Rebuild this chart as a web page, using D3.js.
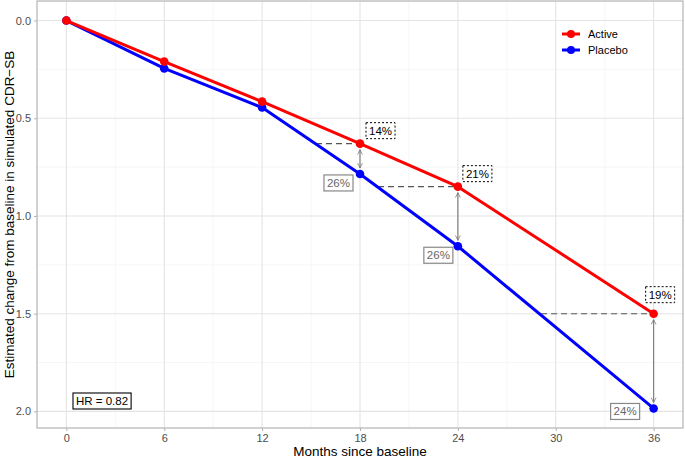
<!DOCTYPE html>
<html>
<head>
<meta charset="utf-8">
<script src="https://cdn.jsdelivr.net/npm/d3@7"></script>
<style>
  body { margin: 0; background: #fff; }
  text { font-family: "Liberation Sans", Arial, sans-serif; }
</style>
</head>
<body>
<script>
"use strict";

var months = [0, 6, 12, 18, 24, 36];
var active = [0, 0.21, 0.415, 0.63, 0.85, 1.50];
var placebo = [0, 0.245, 0.445, 0.785, 1.155, 1.985];

// annotated visits, labels and the month at which placebo reaches the active value
var annoMonths = [18, 24, 36];
var activeLabels = ["14%", "21%", "19%"];
var placeboLabels = ["26%", "26%", "24%"];
var dashFrom = [15.3, 19.1, 29.1];

var xTicks = [0, 6, 12, 18, 24, 30, 36];
var yTicks = [0, 0.5, 1.0, 1.5, 2.0];
var seriesNames = ["Active", "Placebo"];
var hrText = "HR = 0.82";

var width = 685,
    height = 459;

var pLeft = 37, pRight = 683, pTop = 1, pBottom = 428;

var svg = d3.select("body").append("svg")
    .attr("width", width)
    .attr("height", height);

var x = d3.scaleLinear().domain([-1.8, 37.8]).range([pLeft, pRight]);
var y = d3.scaleLinear().domain([-0.1, 2.085]).range([pTop, pBottom]);

var colors = { Active: "#ff0000", Placebo: "#0000ff" };

// grid
var minorX = d3.range(3, 37, 6);
var minorY = [0.25, 0.75, 1.25, 1.75];
var grid = svg.append("g");
grid.selectAll(".mx").data(minorX).enter().append("line")
    .attr("x1", function(d) { return x(d); }).attr("x2", function(d) { return x(d); })
    .attr("y1", pTop).attr("y2", pBottom)
    .style("stroke", "#f0f0f0").style("stroke-width", 0.6);
grid.selectAll(".my").data(minorY).enter().append("line")
    .attr("y1", function(d) { return y(d); }).attr("y2", function(d) { return y(d); })
    .attr("x1", pLeft).attr("x2", pRight)
    .style("stroke", "#f0f0f0").style("stroke-width", 0.6);
grid.selectAll(".gx").data(xTicks).enter().append("line")
    .attr("x1", function(d) { return x(d); }).attr("x2", function(d) { return x(d); })
    .attr("y1", pTop).attr("y2", pBottom)
    .style("stroke", "#e4e4e4").style("stroke-width", 1.1);
grid.selectAll(".gy").data(yTicks).enter().append("line")
    .attr("y1", function(d) { return y(d); }).attr("y2", function(d) { return y(d); })
    .attr("x1", pLeft).attr("x2", pRight)
    .style("stroke", "#e4e4e4").style("stroke-width", 1.1);

// axes
var xAxis = svg.append("g")
    .attr("transform", "translate(0," + pBottom + ")")
    .call(d3.axisBottom(x).tickValues(xTicks).tickSize(3).tickPadding(3));
var yAxis = svg.append("g")
    .attr("transform", "translate(" + pLeft + ",0)")
    .call(d3.axisLeft(y).tickValues(yTicks).tickSize(3).tickPadding(3)
        .tickFormat(d3.format(".1f")));
[xAxis, yAxis].forEach(function(a) {
    a.select(".domain").remove();
    a.selectAll(".tick line").style("stroke", "#b3b3b3");
    a.selectAll(".tick text").style("fill", "#4d4d4d").style("font-size", "11px");
});

// dashed reference lines
var dashG = svg.append("g");
annoMonths.forEach(function(m, i) {
    var j = months.indexOf(m);
    dashG.append("line")
        .attr("x1", x(dashFrom[i])).attr("x2", x(m))
        .attr("y1", y(active[j])).attr("y2", y(active[j]))
        .style("stroke", "#555").style("stroke-width", 1.1)
        .style("stroke-dasharray", "6,4");
});

// arrows
var defs = svg.append("defs");
defs.append("marker")
    .attr("id", "ah")
    .attr("viewBox", "0 0 10 10")
    .attr("refX", 9).attr("refY", 5)
    .attr("markerWidth", 6).attr("markerHeight", 6)
    .attr("orient", "auto-start-reverse")
    .attr("markerUnits", "userSpaceOnUse")
    .append("path")
    .attr("d", "M1,1 L9,5 L1,9")
    .style("fill", "none").style("stroke", "#777").style("stroke-width", 1.3);

annoMonths.forEach(function(m) {
    var j = months.indexOf(m);
    svg.append("line")
        .attr("x1", x(m)).attr("x2", x(m))
        .attr("y1", y(active[j]) + 6).attr("y2", y(placebo[j]) - 6)
        .style("stroke", "#777").style("stroke-width", 1.1)
        .attr("marker-start", "url(#ah)").attr("marker-end", "url(#ah)");
});

// series
var line = d3.line()
    .x(function(d) { return x(d[0]); })
    .y(function(d) { return y(d[1]); });

[["Placebo", placebo], ["Active", active]].forEach(function(s) {
    var pts = months.map(function(m, i) { return [m, s[1][i]]; });
    svg.append("path")
        .datum(pts)
        .attr("d", line)
        .style("fill", "none")
        .style("stroke", colors[s[0]])
        .style("stroke-width", 3)
        .style("stroke-linejoin", "round");
    svg.selectAll(".pt-" + s[0]).data(pts).enter().append("circle")
        .attr("cx", function(d) { return x(d[0]); })
        .attr("cy", function(d) { return y(d[1]); })
        .attr("r", 4.3)
        .style("fill", colors[s[0]]);
});

// labels
function boxLabel(txt, px, py, anchorRight, opts) {
    var g = svg.append("g");
    var t = g.append("text")
        .text(txt)
        .style("font-size", "11.5px")
        .style("fill", opts.color);
    var w = t.node().getComputedTextLength();
    var bw = w + 6, bh = 16;
    var bx = anchorRight ? px - bw : px;
    var by = anchorRight ? py : py - bh;
    g.insert("rect", "text")
        .attr("x", bx).attr("y", by)
        .attr("width", bw).attr("height", bh)
        .style("fill", "#fff")
        .style("stroke", opts.border)
        .style("stroke-width", opts.sw || 1)
        .style("stroke-dasharray", opts.dash || null);
    t.attr("x", bx + 3).attr("y", by + bh / 2 + 4);
}

// pixel nudges of the labels away from their points
var activeNudge = [[6, -5], [5, -5], [-8, -11]];
var placeboNudge = [[-7, 1], [-5, 1], [-14, -5]];
annoMonths.forEach(function(m, i) {
    var j = months.indexOf(m);
    boxLabel(activeLabels[i], x(m) + activeNudge[i][0], y(active[j]) + activeNudge[i][1], false,
        { color: "#000", border: "#000", dash: "2,2" });
    boxLabel(placeboLabels[i], x(m) + placeboNudge[i][0], y(placebo[j]) + placeboNudge[i][1], true,
        { color: "#666", border: "#888", sw: 1.2 });
});

boxLabel(hrText, 73, 409, false, { color: "#000", border: "#000", sw: 1.1 });

// legend
var legend = svg.append("g");
seriesNames.forEach(function(name, i) {
    var ly = 34 + i * 16;
    legend.append("line")
        .attr("x1", 562).attr("x2", 580).attr("y1", ly).attr("y2", ly)
        .style("stroke", colors[name]).style("stroke-width", 3);
    legend.append("circle")
        .attr("cx", 571).attr("cy", ly).attr("r", 4)
        .style("fill", colors[name]);
    legend.append("text")
        .attr("x", 588).attr("y", ly + 4)
        .text(name)
        .style("font-size", "11px")
        .style("fill", "#000");
});

// panel border
svg.append("rect")
    .attr("x", pLeft).attr("y", pTop)
    .attr("width", pRight - pLeft).attr("height", pBottom - pTop)
    .style("fill", "none").style("stroke", "#b3b3b3").style("stroke-width", 1.2);

// titles
svg.append("text")
    .attr("x", (pLeft + pRight) / 2).attr("y", 456)
    .attr("text-anchor", "middle")
    .style("font-size", "13.5px")
    .text("Months since baseline");

svg.append("text")
    .attr("transform", "translate(14," + (pTop + pBottom) / 2 + ") rotate(-90)")
    .attr("text-anchor", "middle")
    .style("font-size", "13.5px")
    .text("Estimated change from baseline in simulated CDR\u2212SB");
</script>
</body>
</html>
